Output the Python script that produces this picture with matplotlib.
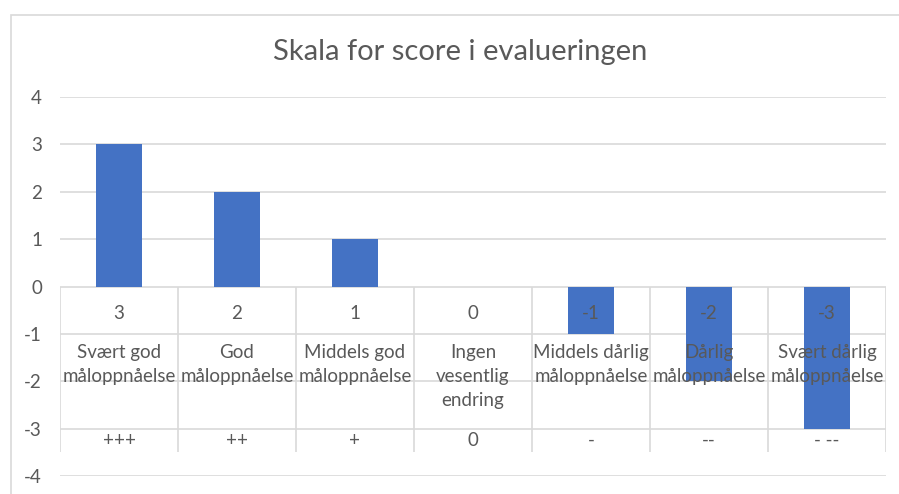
import matplotlib.pyplot as plt
import numpy as np
from matplotlib.patches import Rectangle

title = "Skala for score i evalueringen"
scores = [3, 2, 1, 0, -1, -2, -3]
names = ["Svært god\nmåloppnåelse", "God\nmåloppnåelse", "Middels god\nmåloppnåelse",
         "Ingen\nvesentlig\nendring", "Middels dårlig\nmåloppnåelse", "Dårlig\nmåloppnåelse",
         "Svært dårlig\nmåloppnåelse"]
symbols = ["+++", "++", "+", "0", "-", "--", "- --"]
yticks = [-4, -3, -2, -1, 0, 1, 2, 3, 4]

plt.rcParams['font.family'] = ['Lato', 'DejaVu Sans']
plt.rcParams['axes.unicode_minus'] = False
grey = '#595959'
line = '#d9d9d9'
fs = 13.5

fig = plt.figure(figsize=(8.99, 4.94), dpi=100)
# outer chart border (cut off at right and bottom in the reference)
fig.patches.append(Rectangle((11 / 899, -0.1), 1.1, (494 - 15) / 494 + 0.1,
                             transform=fig.transFigure, fill=False,
                             edgecolor=line, lw=1.2))

ax = fig.add_axes([60 / 899, 18 / 494, 826 / 899, 379 / 494])
x = np.arange(len(scores))
ax.bar(x, scores, width=0.39, color='#4472C4', zorder=2)
ax.set_xlim(-0.5, 6.5)
ax.set_ylim(-4, 4)
ax.set_yticks(yticks)
ax.yaxis.grid(True, color=line, lw=1.2)
ax.set_axisbelow(True)
for s in ax.spines.values():
    s.set_visible(False)
ax.tick_params(axis='y', length=0, pad=13, labelsize=fs, labelcolor=grey)
ax.set_xticks([])

# table-like category axis
ax.vlines(np.arange(-0.5, len(scores)), -3.5, 0, color=line, lw=1.2, zorder=1)
for i in x:
    ax.text(i, -0.57, str(scores[i]), ha='center', va='center',
            fontsize=fs, color=grey, zorder=3)
    for k, part in enumerate(names[i].split('\n')):
        ax.text(i, -1.39 - k * 0.507, part, ha='center', va='center',
                fontsize=fs, color=grey, zorder=3)
    ax.text(i, -3.25, symbols[i], ha='center', va='center',
            fontsize=fs, color=grey, zorder=3)

fig.text(460 / 899, 1 - 52 / 494, title, ha='center', va='center',
         fontsize=21, color=grey)

fig.savefig('out.png')
